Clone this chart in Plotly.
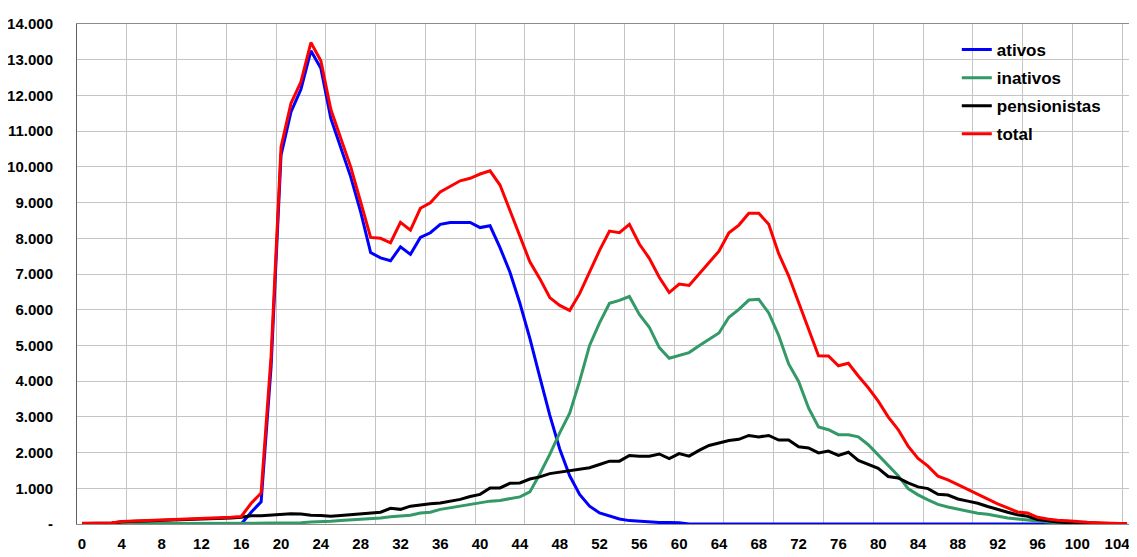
import plotly.graph_objects as go

# idades 0..105
idades = list(range(0, 106))

ativos = [0, 0, 0, 0, 0, 0, 0, 0, 0, 0,
          0, 0, 0, 0, 0, 0, 0, 330, 620, 4400,
          10330, 11540, 12170, 13250, 12760, 11360, 10560, 9720, 8740, 7600,
          7450, 7370, 7760, 7550, 8025, 8155, 8390, 8440, 8445, 8445,
          8300, 8350, 7740, 7050, 6180, 5195, 4110, 3050, 2100, 1350,
          830, 500, 310, 215, 140, 95, 75, 56, 45, 40,
          35, 0, 0, 0, 0, 0, 0, 0, 0, 0,
          0, 0, 0, 0, 0, 0, 0, 0, 0, 0,
          0, 0, 0, 0, 0, 0, 0, 0, 0, 0,
          0, 0, 0, 0, 0, 0, 0, 0, 0, 0,
          0, 0, 0, 0, 0, 0]

inativos = [5, 5, 5, 5, 10, 10, 10, 10, 10, 10,
            15, 15, 15, 15, 15, 20, 20, 20, 20, 25,
            30, 30, 35, 55, 60, 75, 95, 110, 130, 150,
            170, 200, 220, 245, 310, 330, 410, 460, 500, 545,
            590, 640, 660, 700, 760, 900, 1400, 1950, 2550, 3100,
            4000, 5000, 5630, 6180, 6260, 6370, 5870, 5510, 4940, 4640,
            4730, 4800, 4990, 5170, 5350, 5790, 6010, 6270, 6290, 5910,
            5280, 4480, 3990, 3250, 2720, 2640, 2500, 2500, 2440, 2220,
            1940, 1655, 1355, 990, 815, 675, 550, 475, 420, 365,
            300, 270, 215, 170, 140, 110, 75, 55, 40, 30,
            20, 15, 10, 8, 5, 3]

pensionistas = [15, 15, 20, 25, 60, 70, 70, 80, 90, 100,
                115, 125, 145, 135, 155, 170, 190, 230, 230, 250,
                270, 290, 280, 245, 240, 215, 240, 260, 290, 320,
                330, 440, 410, 500, 540, 570, 590, 635, 690, 770,
                830, 1010, 1010, 1140, 1150, 1260, 1320, 1410, 1450, 1480,
                1530, 1575, 1665, 1760, 1760, 1920, 1900, 1900, 1960, 1830,
                1970, 1900, 2060, 2200, 2270, 2340, 2370, 2480, 2440, 2480,
                2350, 2350, 2160, 2130, 1990, 2040, 1920, 2010, 1780, 1680,
                1560, 1330, 1290, 1150, 1040, 990, 830, 810, 700, 640,
                580, 490, 400, 330, 260, 215, 125, 80, 55, 40,
                30, 20, 15, 10, 5, 3]

total = [20, 20, 25, 30, 70, 80, 80, 90, 100, 110,
         130, 140, 160, 150, 170, 190, 210, 580, 870, 4700,
         10560, 11780, 12380, 13480, 12970, 11610, 10800, 10000, 9020, 8025,
         8000, 7875, 8445, 8230, 8840, 8995, 9300, 9460, 9610, 9680,
         9800, 9890, 9490, 8780, 8060, 7340, 6870, 6340, 6120, 5980,
         6450, 7080, 7660, 8200, 8155, 8390, 7840, 7440, 6910, 6480,
         6720, 6680, 7000, 7320, 7640, 8155, 8370, 8700, 8700, 8390,
         7570, 6950, 6230, 5460, 4710, 4705, 4430, 4500, 4145, 3815,
         3440, 3000, 2645, 2180, 1835, 1620, 1340, 1235, 1105, 965,
         823, 683, 561, 449, 337, 309, 187, 140, 103, 94,
         65, 47, 37, 28, 19, 9]

x_ticks = list(range(0, 105, 4))
y_ticks = list(range(0, 14001, 1000))
y_labels = ['-'] + ['{:,}'.format(v).replace(',', '.') for v in y_ticks[1:]]

fonte = 'Arial, Liberation Sans, sans-serif'

fig = go.Figure()

# uma linha por grupo
series = [('ativos', ativos, '#0000FF'),
          ('inativos', inativos, '#339966'),
          ('pensionistas', pensionistas, '#000000'),
          ('total', total, '#FF0000')]

for nome, valores, cor in series:
    fig.add_trace(go.Scatter(
        x=idades,
        y=valores,
        name=nome,
        legendgroup=nome,
        mode='lines',
        line=dict(color=cor, width=3)
    ))

# fundo branco da legenda por cima da grade
fig.add_shape(type='rect', xref='paper', yref='paper',
              x0=0.816, x1=0.9915, y0=0.752, y1=0.982,
              fillcolor='white', line=dict(width=0), layer='between')

# a pagina tem 8px de margem no body: figura menor e margens compensadas
fig.update_layout(
    width=1129,
    height=549,
    margin=dict(l=69, r=0, t=16, b=33),
    plot_bgcolor='white',
    paper_bgcolor='white',
    font=dict(family=fonte, color='black'),
    showlegend=True,
    legend=dict(
        x=0.83, y=0.984, xanchor='left', yanchor='top',
        bgcolor='rgba(0,0,0,0)',
        font=dict(family=fonte, size=17, color='black', weight='bold'),
        tracegroupgap=3,
    ),
)

fig.update_xaxes(
    range=[-0.5, 106],
    automargin=False,
    tickmode='array',
    tickvals=x_ticks,
    ticktext=[str(v) for v in x_ticks],
    tickfont=dict(family=fonte, size=15, color='black', weight='bold'),
    ticklabelstandoff=6,
    showgrid=False,
    zeroline=False,
    showline=True,
    linecolor='#8c8c8c',
    linewidth=1,
    mirror=True,
    minor=dict(tick0=-0.5, dtick=5, showgrid=True, gridcolor='#c4c4c4', gridwidth=1, ticks=''),
)

fig.update_yaxes(
    range=[0, 14000],
    automargin=False,
    tickmode='array',
    tickvals=y_ticks,
    ticktext=y_labels,
    tickfont=dict(family=fonte, size=15, color='black', weight='bold'),
    ticklabelstandoff=20,
    showgrid=True,
    gridcolor='#c4c4c4',
    gridwidth=1,
    zeroline=False,
    showline=True,
    linecolor='#606060',
    linewidth=1,
    mirror=True,
)

fig.write_html('out.html')
